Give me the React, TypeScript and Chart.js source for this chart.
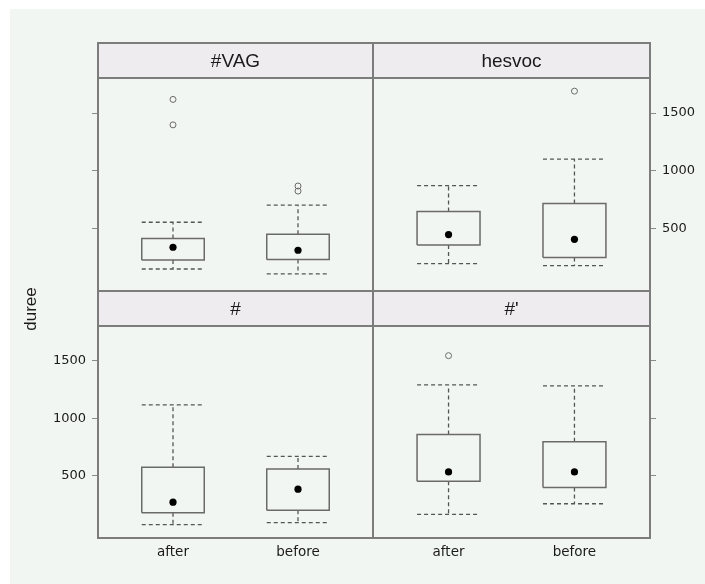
import React, { useEffect, useRef } from "react";
import { Chart, registerables } from "chart.js";
Chart.register(...registerables);

const panelNames = ["#VAG", "hesvoc", "#", "#'"];
const groups = ["after", "before"];
const yTicks = [500, 1000, 1500];
const whiskerLow = [[146, 103], [193, 176], [71, 89], [161, 254]];
const lowerHinge = [[224, 228], [355, 245], [176, 198], [450, 396]];
const medians = [[335, 309], [445, 404], [268, 381], [532, 532]];
const upperHinge = [[410, 448], [645, 715], [572, 558], [859, 796]];
const whiskerHigh = [[552, 700], [871, 1100], [1117, 668], [1291, 1283]];
const outliers = [[[1619, 1398], [867, 823]], [[], [1691]], [[], []], [[1546], []]];
const yMin = -45;
const yMax = 1805;
const yTitle = "duree";

const W = 705;
const H = 584;
const colX = [[98, 373], [373, 650]];
const rowY = [[78, 291], [326, 538]];
const STRIP = 35;
const AW = 50;
const XH = 30;
const HW = 0.25;

function makeConfig(i: number) {
  const col = i % 2;
  const row = Math.floor(i / 2);
  const [x0, x1] = colX[col];
  const [y0, y1] = rowY[row];
  const showX = row === 1;
  const showYLabels = (row === 1 && col === 0) || (row === 0 && col === 1);
  const boxData: any[] = [];
  const whiskData: any[] = [];
  const medData: any[] = [];
  const outData: any[] = [];
  groups.forEach((_, g) => {
    const x = g + 1;
    const q1 = lowerHinge[i][g];
    const q3 = upperHinge[i][g];
    const lo = whiskerLow[i][g];
    const hi = whiskerHigh[i][g];
    boxData.push(
      { x: x - HW, y: q1 }, { x: x + HW, y: q1 }, { x: x + HW, y: q3 },
      { x: x - HW, y: q3 }, { x: x - HW, y: q1 }, { x, y: null }
    );
    whiskData.push(
      { x, y: q3 }, { x, y: hi }, { x, y: null },
      { x: x - HW, y: hi }, { x: x + HW, y: hi }, { x, y: null },
      { x, y: q1 }, { x, y: lo }, { x, y: null },
      { x: x - HW, y: lo }, { x: x + HW, y: lo }, { x, y: null }
    );
    medData.push({ x, y: medians[i][g] });
    outliers[i][g].forEach((v) => outData.push({ x, y: v }));
  });

  const stripPlugin = {
    id: "strip" + i,
    afterDraw(chart: any) {
      const ctx = chart.ctx;
      const a = chart.chartArea;
      ctx.save();
      ctx.fillStyle = "#eeecef";
      ctx.fillRect(a.left, a.top - STRIP, a.right - a.left, STRIP);
      ctx.strokeStyle = "#7c7c7c";
      ctx.lineWidth = 2;
      ctx.strokeRect(a.left, a.top - STRIP, a.right - a.left, STRIP);
      ctx.strokeRect(a.left, a.top, a.right - a.left, a.bottom - a.top);
      ctx.fillStyle = "#1a1a1a";
      ctx.font = "19px 'Liberation Sans', Arial, sans-serif";
      ctx.textAlign = "center";
      ctx.textBaseline = "middle";
      ctx.fillText(panelNames[i], (a.left + a.right) / 2, a.top - STRIP / 2 + 1);
      if (i === 2) {
        ctx.translate(31, 309);
        ctx.rotate(-Math.PI / 2);
        ctx.font = "17px 'Liberation Sans', Arial, sans-serif";
        ctx.fillText(yTitle, 0, 0);
      }
      ctx.restore();
    },
  };

  return {
    type: "scatter",
    data: {
      datasets: [
        { data: medData, pointRadius: 3.6, backgroundColor: "#000", borderWidth: 0, showLine: false },
        { data: outData, pointRadius: 3, backgroundColor: "rgba(0,0,0,0)", borderColor: "#6a6a6a", borderWidth: 1, showLine: false },
        { data: boxData, showLine: true, pointRadius: 0, borderColor: "#6a6a6a", borderWidth: 1.5, fill: false, spanGaps: false },
        { data: whiskData, showLine: true, pointRadius: 0, borderColor: "#555", borderWidth: 1.3, borderDash: [4, 3], fill: false, spanGaps: false },
      ],
    },
    options: {
      responsive: false,
      animation: false,
      devicePixelRatio: 1,
      events: [],
      layout: {
        padding: {
          left: col === 0 ? x0 - AW : x0,
          right: col === 1 ? W - x1 - AW : W - x1,
          top: y0,
          bottom: H - y1 - (showX ? XH : 0),
        },
      },
      plugins: { legend: { display: false }, tooltip: { enabled: false } },
      scales: {
        x: {
          type: "linear",
          min: 0.4,
          max: 2.6,
          display: showX,
          grid: { display: false, drawTicks: false },
          border: { display: false },
          afterBuildTicks: (s: any) => { s.ticks = groups.map((_, g) => ({ value: g + 1 })); },
          afterFit: (s: any) => { s.height = showX ? XH : 0; },
          ticks: {
            padding: 6,
            color: "#1a1a1a",
            font: { family: "'DejaVu Sans', sans-serif", size: 13.5 },
            callback: (v: number) => groups[Math.round(v) - 1] ?? "",
          },
        },
        y: {
          type: "linear",
          position: col === 0 ? "left" : "right",
          min: yMin,
          max: yMax,
          grid: { drawOnChartArea: false, drawTicks: true, tickLength: 6, color: "#8a8a8a", lineWidth: 1 },
          border: { display: false },
          afterBuildTicks: (s: any) => { s.ticks = yTicks.map((v) => ({ value: v })); },
          afterFit: (s: any) => { s.width = AW; },
          ticks: {
            padding: 6,
            color: "#1a1a1a",
            font: { family: "'DejaVu Sans', sans-serif", size: 13 },
            callback: (v: number) => (showYLabels ? String(v) : ""),
          },
        },
      },
    },
    plugins: [stripPlugin],
  };
}

function Panel({ index }: { index: number }) {
  const ref = useRef<HTMLCanvasElement>(null);
  useEffect(() => {
    const chart = new Chart(ref.current as HTMLCanvasElement, makeConfig(index) as any);
    return () => chart.destroy();
  }, [index]);
  return (
    <canvas
      ref={ref}
      width={W}
      height={H}
      style={{ position: "absolute", left: 0, top: 0, width: W, height: H }}
    />
  );
}

export default function App() {
  return (
    <div style={{ position: "absolute", left: 0, top: 0, width: W, height: H, background: "#fff", overflow: "hidden" }}>
      <div style={{ position: "absolute", left: 10, top: 9, width: W - 10, height: H - 9, background: "#f2f6f2" }} />
      {panelNames.map((_, i) => (
        <Panel key={i} index={i} />
      ))}
    </div>
  );
}
